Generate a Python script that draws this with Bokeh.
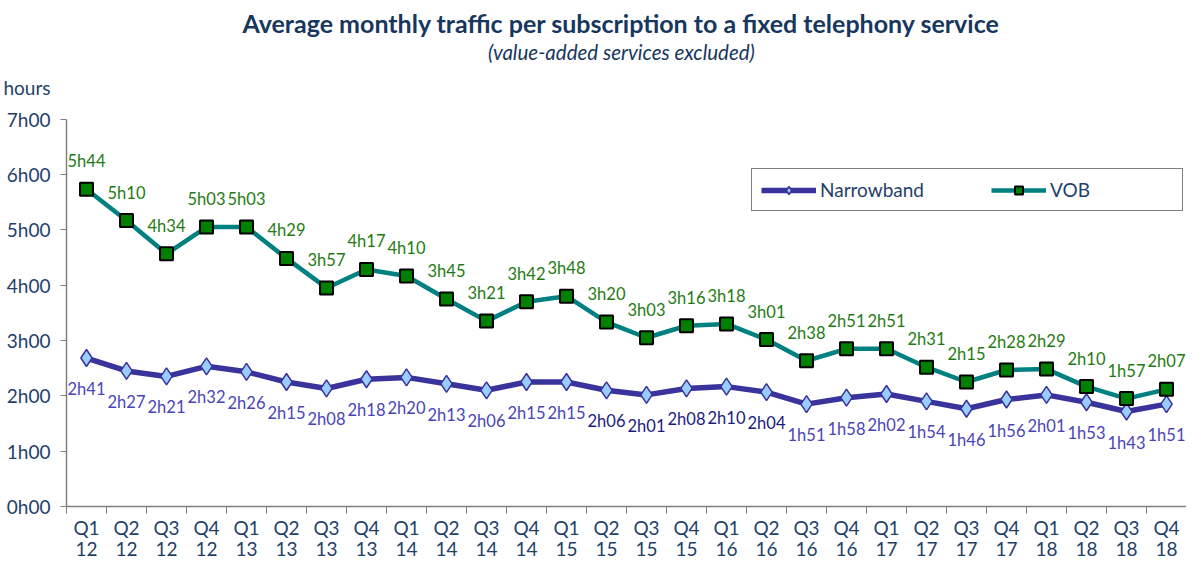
from bokeh.plotting import figure
from bokeh.models import FixedTicker, Label, Range1d, Legend, LegendItem, ColumnDataSource, LinearAxis
from bokeh.embed import file_html
from bokeh.resources import INLINE
from bokeh.core.properties import value

quarters = ["Q1", "Q2", "Q3", "Q4"] * 7
years = [str(y) for y in range(12, 19) for _ in range(4)]
vob_labels = ["5h44", "5h10", "4h34", "5h03", "5h03", "4h29", "3h57", "4h17", "4h10", "3h45",
              "3h21", "3h42", "3h48", "3h20", "3h03", "3h16", "3h18", "3h01", "2h38", "2h51",
              "2h51", "2h31", "2h15", "2h28", "2h29", "2h10", "1h57", "2h07"]
nb_labels = ["2h41", "2h27", "2h21", "2h32", "2h26", "2h15", "2h08", "2h18", "2h20", "2h13",
             "2h06", "2h15", "2h15", "2h06", "2h01", "2h08", "2h10", "2h04", "1h51", "1h58",
             "2h02", "1h54", "1h46", "1h56", "2h01", "1h53", "1h43", "1h51"]
y_ticks = [0, 1, 2, 3, 4, 5, 6, 7]
y_tick_labels = ["0h00", "1h00", "2h00", "3h00", "4h00", "5h00", "6h00", "7h00"]
unit_label = "hours"


def to_hours(s):
    h, m = s.split("h")
    return int(h) + int(m) / 60.0


vob = [to_hours(s) for s in vob_labels]
nb = [to_hours(s) for s in nb_labels]
xs = list(range(len(quarters)))

FONT = "Lato"
AXIS_COL = "#1F3F6B"
TITLE_COL = "#17375E"
NB_LINE = "#3A339C"
NB_FILL = "#99CCFF"
NB_TXT = "#4A44B8"
NB_TXT_DARK = "#1C1A7E"
VOB_LINE = "#008080"
VOB_FILL = "#008000"
VOB_TXT = "#1E7B12"

BOTTOM = 59          # height of the bottom axis panels
HEIGHT = 558
TOP_7H = 117         # distance of the 7h00 line from the top of the figure
PX_PER_H = (HEIGHT - BOTTOM - TOP_7H) / 7.0
y_top = (HEIGHT - BOTTOM) / PX_PER_H

p = figure(width=1186, height=HEIGHT, output_backend="svg", toolbar_location=None,
           x_range=Range1d(-0.5, len(xs) - 0.5), y_range=Range1d(0, y_top),
           min_border_left=0, min_border_right=0, min_border_top=0, min_border_bottom=0)
p.title = None
p.outline_line_color = None
p.grid.visible = False
p.background_fill_color = "white"
p.border_fill_color = "white"

# x axis: quarters (with boundary ticks)
xa = p.xaxis[0]
xa.ticker = FixedTicker(ticks=xs, minor_ticks=[i - 0.5 for i in range(len(xs) + 1)])
xa.major_label_overrides = {i: q for i, q in enumerate(quarters)}
xa.major_tick_out = 0
xa.major_tick_in = 0
xa.minor_tick_out = 7
xa.minor_tick_in = 0
xa.minor_tick_line_color = "#808080"
xa.axis_line_color = "#808080"
xa.axis_line_width = 1.5
xa.major_label_text_font = FONT
xa.major_label_text_font_size = "19px"
xa.major_label_text_line_height = 1.0
xa.major_label_text_color = AXIS_COL
xa.major_label_standoff = 2
xa.axis_label_standoff = 0

# x axis: years
xa2 = LinearAxis(ticker=FixedTicker(ticks=xs, minor_ticks=[]),
                 major_label_overrides={i: y for i, y in enumerate(years)},
                 axis_line_color=None, major_tick_line_color=None, minor_tick_line_color=None,
                 major_tick_out=0, major_tick_in=0, minor_tick_out=0, minor_tick_in=0,
                 major_label_text_font=FONT, major_label_text_font_size="19px",
                 major_label_text_line_height=1.0,
                 major_label_text_color=AXIS_COL, major_label_standoff=0, axis_label_standoff=0)
p.add_layout(xa2, "below")

# inner y axis: line and ticks only
ya = p.yaxis[0]
ya.ticker = FixedTicker(ticks=y_ticks, minor_ticks=[])
ya.bounds = (0, 7)
ya.major_label_overrides = {t: "" for t in y_ticks}
ya.major_label_standoff = 0
ya.major_tick_out = 6
ya.major_tick_in = 0
ya.major_tick_line_color = "#808080"
ya.axis_line_color = "#808080"
ya.axis_line_width = 1.5

# outer y axis: tick labels and unit label
unit_pos = 7 + 31 / PX_PER_H
ya2 = LinearAxis(ticker=FixedTicker(ticks=y_ticks + [unit_pos], minor_ticks=[]),
                 major_label_overrides={**{t: l for t, l in zip(y_ticks, y_tick_labels)}, unit_pos: unit_label},
                 axis_line_color=None, major_tick_line_color=None, minor_tick_line_color=None,
                 major_label_text_font=FONT, major_label_text_font_size="19px",
                 major_label_text_color=AXIS_COL, major_label_standoff=4)
p.add_layout(ya2, "left")

# series
nb_src = ColumnDataSource(dict(x=xs, y=nb, lab=nb_labels,
                               col=[NB_TXT_DARK if 13 <= i <= 17 else NB_TXT for i in xs]))
vob_src = ColumnDataSource(dict(x=xs, y=vob, lab=vob_labels))

nb_line = p.line("x", "y", source=nb_src, line_color=NB_LINE, line_width=5.5, line_join="round")
nb_pts = p.scatter("x", "y", source=nb_src, marker="diamond", size=17, fill_color=NB_FILL,
                   line_color=NB_LINE, line_width=1.5)
vob_line = p.line("x", "y", source=vob_src, line_color=VOB_LINE, line_width=4.5, line_join="round")
vob_pts = p.scatter("x", "y", source=vob_src, marker="square", size=13, fill_color=VOB_FILL,
                    line_color="black", line_width=2)

p.text("x", "y", text="lab", source=vob_src, text_font=value(FONT), text_font_size="16.5px",
       text_color=VOB_TXT, text_align="center", text_baseline="middle", y_offset=-28)
p.text("x", "y", text="lab", source=nb_src, text_font=value(FONT), text_font_size="16.5px",
       text_color="col", text_align="center", text_baseline="middle", y_offset=31)

legend = Legend(items=[LegendItem(label="Narrowband", renderers=[nb_line, nb_pts]),
                       LegendItem(label="VOB", renderers=[vob_line, vob_pts])],
                orientation="horizontal", location=(685, 295),
                border_line_color="black", border_line_width=1,
                padding=9, margin=0, spacing=48, glyph_width=55, glyph_height=20,
                label_standoff=4, label_text_font=FONT, label_text_font_size="19px",
                label_text_color=AXIS_COL, label_height=20, label_width=123)
p.add_layout(legend, "center")

# titles (inside the frame, above the axis bounds)
mid = (len(xs) - 1) / 2.0
p.add_layout(Label(x=mid, y=7, text="Average monthly traffic per subscription to a fixed telephony service",
                   text_font=FONT, text_font_size="25px", text_font_style="bold",
                   text_color=TITLE_COL, text_align="center", text_baseline="middle", y_offset=96, x_offset=-5))
p.add_layout(Label(x=mid, y=7, text="(value-added services excluded)",
                   text_font=FONT, text_font_size="20.5px", text_font_style="italic",
                   text_color=TITLE_COL, text_align="center", text_baseline="middle", y_offset=67, x_offset=-5))

open("out.html", "w").write(file_html(p, INLINE))
